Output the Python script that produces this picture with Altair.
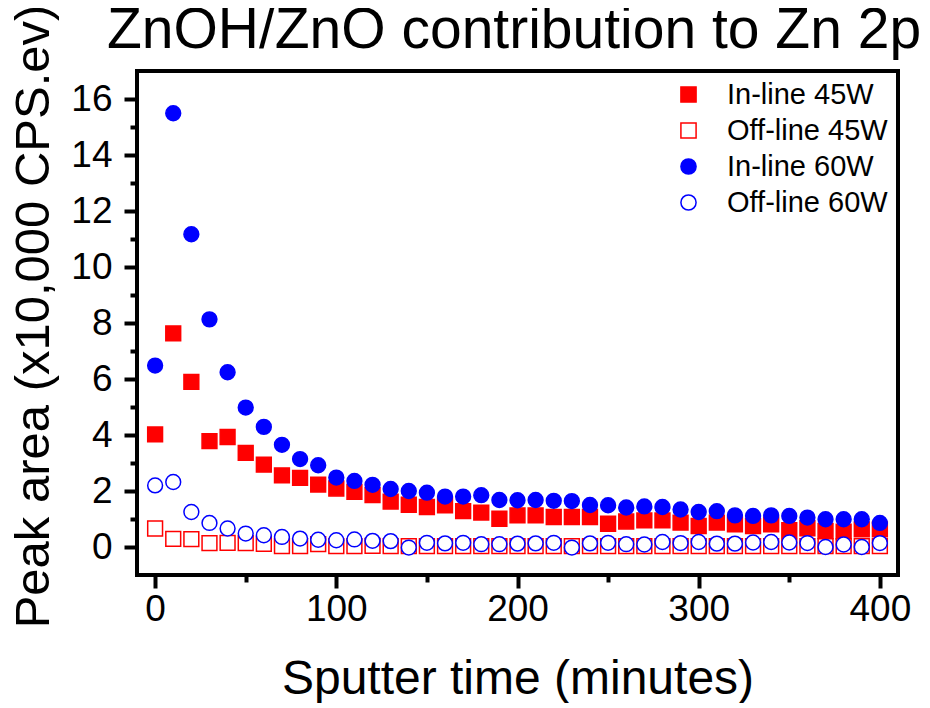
import altair as alt
import pandas as pd

time_min = list(range(0, 401, 10))

inline_45w = [4.02, 7.63, 5.90, 3.78, 3.93, 3.36, 2.94, 2.56, 2.47, 2.23,
              2.09, 1.97, 1.85, 1.62, 1.51, 1.43, 1.49, 1.28, 1.23, 1.01,
              1.13, 1.13, 1.07, 1.07, 1.07, 0.83, 0.91, 0.95, 0.95, 0.87,
              0.75, 0.87, 0.81, 0.75, 0.81, 0.60, 0.67, 0.57, 0.55, 0.63,
              0.63]
offline_45w = [0.66, 0.29, 0.28, 0.14, 0.15, 0.14, 0.11, 0.03, 0.03, 0.10,
               0.03, 0.03, 0.04, 0.03, 0.03, 0.03, 0.03, 0.03, 0.03, 0.03,
               0.03, 0.03, 0.03, 0.03, 0.03, 0.03, 0.03, 0.03, 0.03, 0.03,
               0.03, 0.03, 0.03, 0.03, 0.03, 0.03, 0.03, 0.03, 0.03, 0.03,
               0.03]
inline_60w = [6.48, 15.49, 11.17, 8.13, 6.24, 4.98, 4.29, 3.65, 3.14, 2.92,
              2.48, 2.36, 2.22, 2.07, 2.00, 1.94, 1.80, 1.80, 1.85, 1.68,
              1.67, 1.68, 1.65, 1.64, 1.50, 1.49, 1.41, 1.45, 1.43, 1.34,
              1.25, 1.28, 1.13, 1.11, 1.13, 1.11, 1.05, 0.99, 0.99, 0.99,
              0.86]
offline_60w = [2.20, 2.32, 1.25, 0.86, 0.66, 0.48, 0.42, 0.36, 0.30, 0.26,
               0.24, 0.27, 0.22, 0.21, -0.02, 0.15, 0.13, 0.15, 0.10, 0.10,
               0.12, 0.13, 0.15, -0.02, 0.13, 0.15, 0.10, 0.09, 0.18, 0.14,
               0.18, 0.12, 0.12, 0.16, 0.18, 0.16, 0.14, 0.00, 0.09, 0.00,
               0.14]

series_names = ["In-line 45W", "Off-line 45W", "In-line 60W", "Off-line 60W"]
series_values = [inline_45w, offline_45w, inline_60w, offline_60w]
chart_title = ["ZnOH/ZnO contribution to Zn 2p"]

stroke_colors = ["#ff0000", "#ff0000", "#0000ff", "#0000ff"]
fill_colors = ["#ff0000", "#ffffff", "#0000ff", "#ffffff"]
shapes = ["square", "square", "circle", "circle"]

x_ticks = list(range(0, 401, 50))
y_ticks = list(range(0, 17, 1))

rows = []
for name, vals in zip(series_names, series_values):
    for t, v in zip(time_min, vals):
        rows.append({"time": t, "area": v, "series": name})
df = pd.DataFrame(rows)
title_df = pd.DataFrame({"label": chart_title})

FONT = "Liberation Sans"

legend = alt.Legend(
    title=None, orient="none", legendX=537, legendY=9,
    labelFont=FONT, labelFontSize=29, labelColor="black", labelLimit=0,
    symbolSize=230, symbolStrokeWidth=1.5, labelOffset=24,
    rowPadding=6, padding=0,
)

x_axis = alt.Axis(
    values=x_ticks,
    labelExpr="datum.value % 100 === 0 ? datum.label : ''",
    tickSize={"condition": {"test": "datum.value % 100 === 0", "value": 13}, "value": 7},
    tickWidth=4, tickColor="black", domain=False, grid=False,
    labelFont=FONT, labelFontSize=37, labelColor="black", labelPadding=3,
    titleFont=FONT, titleFontSize=48, titleFontWeight="normal", titleColor="black",
    titlePadding=28,
)
y_axis = alt.Axis(
    values=y_ticks,
    labelExpr="datum.value % 2 === 0 ? datum.label : ''",
    tickSize={"condition": {"test": "datum.value % 2 === 0", "value": 13}, "value": 7},
    tickWidth=4, tickColor="black", domain=False, grid=False,
    labelFont=FONT, labelFontSize=37, labelColor="black", labelPadding=12,
    titleFont=FONT, titleFontSize=49, titleFontWeight="normal", titleColor="black",
    titlePadding=12, titleY=245,
)

points = alt.Chart(df).mark_point(size=220, strokeWidth=1.5, opacity=1).encode(
    x=alt.X("time:Q", title="Sputter time (minutes)",
            scale=alt.Scale(domain=[-10, 410], nice=False, zero=False), axis=x_axis),
    y=alt.Y("area:Q", title="Peak area (x10,000 CPS.ev)",
            scale=alt.Scale(domain=[-1, 17], nice=False, zero=False), axis=y_axis),
    color=alt.Color("series:N", scale=alt.Scale(domain=series_names, range=stroke_colors), legend=legend),
    fill=alt.Fill("series:N", scale=alt.Scale(domain=series_names, range=fill_colors), legend=legend),
    shape=alt.Shape("series:N", scale=alt.Scale(domain=series_names, range=shapes), legend=legend),
)

title_mark = alt.Chart(title_df).mark_text(
    font=FONT, fontSize=57, color="black", align="center", baseline="alphabetic",
).encode(
    text="label:N",
    x=alt.value(377),
    y=alt.value(-23),
)

chart = alt.layer(points, title_mark).properties(
    width=761, height=504,
    autosize=alt.AutoSizeParams(type="none"),
    padding={"left": 129, "top": 63, "right": 24, "bottom": 128},
    background="white",
).configure_view(stroke="black", strokeWidth=4)

chart.save("out.html", embed_options={"renderer": "svg", "actions": False})
